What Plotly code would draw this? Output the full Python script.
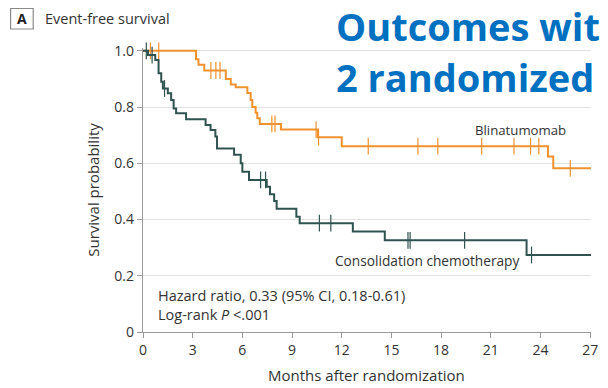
import plotly.graph_objects as go

# ---- data ----
blin_t = [0, 3.2, 3.35, 3.7, 5.0, 5.3, 5.6, 6.3, 6.5, 6.6, 6.8, 6.9, 7.05, 8.33, 10.55, 12.0, 24.45, 24.77, 27.05]
blin_s = [1.0, 0.97, 0.95, 0.93, 0.90, 0.88, 0.87, 0.85, 0.825, 0.80, 0.78, 0.76, 0.74, 0.72, 0.693, 0.661, 0.624, 0.582, 0.582]
blin_cens = [0.45, 0.95, 4.1, 4.4, 4.65, 7.78, 7.97, 10.45, 10.6, 13.6, 16.6, 17.8, 20.45, 22.4, 23.4, 23.9, 25.8]

chemo_t = [0, 0.3, 0.74, 0.94, 1.1, 1.2, 1.5, 1.7, 1.85, 2.0, 2.6, 3.78, 4.08, 4.37, 4.47, 5.5, 5.9, 6.0, 6.4,
           7.47, 7.67, 7.92, 8.07, 9.26, 9.46, 12.67, 14.6, 23.16, 27.05]
chemo_s = [1.0, 0.985, 0.967, 0.92, 0.89, 0.866, 0.849, 0.825, 0.795, 0.778, 0.757, 0.736, 0.718, 0.695, 0.653,
           0.63, 0.60, 0.57, 0.541, 0.517, 0.49, 0.466, 0.438, 0.41, 0.387, 0.357, 0.326, 0.274, 0.274]
chemo_cens = [0.2, 0.55, 1.3, 7.1, 7.4, 10.65, 11.34, 16.0, 16.13, 19.42, 23.46]

x_ticks = [0, 3, 6, 9, 12, 15, 18, 21, 24, 27]
y_ticks = [0, 0.2, 0.4, 0.6, 0.8, 1.0]
y_tick_text = ["0", "0.2", "0.4", "0.6", "0.8", "1.0"]

ORANGE = "#F0922E"
GREEN = "#2F5350"
FONT = "Open Sans"
W, H = 608, 388
ML, MR, MT, MB = 143, 10, 48, 56


def step_value(ts, ss, t):
    v = ss[0]
    for ti, si in zip(ts, ss):
        if ti <= t:
            v = si
    return v


def px(x, y):
    """pixel -> paper coordinates"""
    return (x - ML) / (W - ML - MR), (H - MB - y) / (H - MT - MB)


fig = go.Figure()
for ts, ss, cens, col in [(blin_t, blin_s, blin_cens, ORANGE), (chemo_t, chemo_s, chemo_cens, GREEN)]:
    fig.add_trace(go.Scatter(x=ts, y=ss, mode="lines", line=dict(color=col, width=2, shape="hv"),
                             showlegend=False, hoverinfo="skip"))
    fig.add_trace(go.Scatter(x=cens, y=[step_value(ts, ss, c) for c in cens], mode="markers",
                             marker=dict(symbol="line-ns", size=12, line=dict(color=col, width=1.2)),
                             showlegend=False, hoverinfo="skip", cliponaxis=False))

fig.update_layout(
    width=W, height=H, margin=dict(l=ML, r=MR, t=MT, b=MB),
    paper_bgcolor="white", plot_bgcolor="white",
    font=dict(family=FONT, color="#333", size=13),
    xaxis=dict(range=[0, 27.05], tickvals=x_ticks, showgrid=False, zeroline=False,
               showline=True, linecolor="#9a9a9a", linewidth=1.3, ticks="outside", ticklen=5,
               tickcolor="#9a9a9a", tickfont=dict(size=14, color="#333")),
    yaxis=dict(range=[0, 1.01], tickvals=y_ticks, ticktext=y_tick_text, showgrid=True,
               gridcolor="#e2e2e2", gridwidth=1.2, zeroline=False,
               showline=True, linecolor="#9a9a9a", linewidth=1.3, ticks="outside", ticklen=5,
               tickcolor="#9a9a9a", tickfont=dict(size=14, color="#333")),
)

ann = []


def add(text, x, y, xa="left", ya="middle", size=13, color="#333", **kw):
    ax, ay = px(x, y)
    ann.append(dict(text=text, x=ax, y=ay, xref="paper", yref="paper", xanchor=xa, yanchor=ya,
                    showarrow=False, font=dict(size=size, color=color, family=kw.pop("family", FONT)), **kw))


add("Blinatumomab", 526, 130, xa="center", size=13.2)
add("Consolidation chemotherapy", 431, 260, xa="center", size=13.7)
add("Hazard ratio, 0.33 (95% CI, 0.18-0.61)", 156, 295, size=14.5)
add("Log-rank <i>P</i> <.001", 156, 314, size=14.5)
add("Months after randomization", 370, 375, xa="center", size=15)
add("Survival probability", 92, 190, xa="center", size=15, textangle=-90)
add("<b>A</b>", 20, 18.5, xa="center", size=14, color="#222")
add("Event-free survival", 41, 18.5, size=14.5)
add("<b>Outcomes wit</b>", 337, 25.5, size=38, color="#0070C0")
add("<b>2 randomized</b>", 337, 77, size=38, color="#0070C0")

bx0, by0 = px(8.5, 8.5)
bx1, by1 = px(31.5, 29)
fig.update_layout(
    annotations=ann,
    shapes=[dict(type="rect", xref="paper", yref="paper", x0=bx0, x1=bx1, y0=by0, y1=by1,
                 line=dict(color="#8a8a8a", width=1.2), fillcolor="rgba(0,0,0,0)")],
)
fig.write_html("out.html")
